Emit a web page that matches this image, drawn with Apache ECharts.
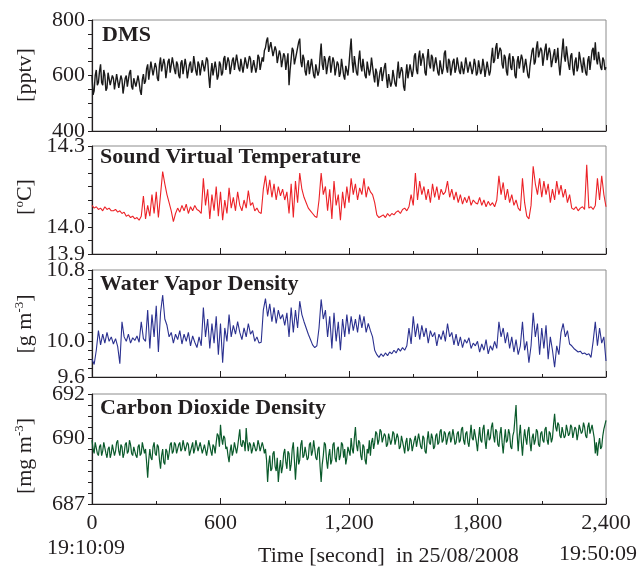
<!DOCTYPE html>
<html>
<head>
<meta charset="utf-8">
<script src="https://cdn.jsdelivr.net/npm/echarts@6/dist/echarts.min.js"></script>
<style>
html,body{margin:0;padding:0;background:#fff;}
#chart{width:639px;height:568px;}
</style>
</head>
<body>
<div id="chart"></div>
<script>
// ---- Data ----
const xTicks = [0, 600, 1200, 1800, 2400];

// DMS [pptv], one sample every 5 s
const DMS_STEP_S = 5;
const dms = [
600,530,545,600,620,565,575,615,640,575,565,620,600,545,555,610,615,565,570,600,
590,550,545,605,610,555,560,600,585,535,540,590,600,560,565,610,620,560,550,590,
595,560,560,600,575,545,530,585,605,570,580,625,640,585,590,650,655,600,600,645,
630,590,580,640,665,615,610,660,640,590,595,650,660,610,615,665,670,620,605,650,
640,600,590,645,655,605,610,660,635,590,585,640,650,610,620,670,665,615,600,650,
640,600,605,655,660,615,620,665,655,600,555,610,645,600,600,650,625,585,600,650,
640,600,610,660,670,620,620,665,650,605,600,655,665,620,625,675,680,625,615,660,
655,610,610,665,670,625,625,670,660,610,605,655,650,610,630,675,665,620,620,665,
650,690,700,725,737,685,690,720,715,670,665,705,690,645,640,690,675,630,630,680,
670,620,625,680,565,620,660,700,690,640,635,680,680,720,733,650,630,675,660,615,
600,640,655,605,605,660,665,600,590,640,645,600,615,670,715,640,620,670,655,605,
600,660,670,610,615,665,650,600,595,650,640,595,610,660,660,600,585,635,640,600,
640,690,733,650,610,670,665,610,600,655,690,635,615,660,655,600,590,650,645,600,
620,665,660,600,575,625,610,560,560,615,630,580,580,630,645,590,555,605,600,560,
575,620,625,570,560,610,650,590,585,630,615,560,545,600,640,590,590,640,640,595,
620,670,680,620,605,665,690,635,630,680,660,610,600,660,695,640,625,675,665,615,
615,665,670,610,600,655,655,605,625,680,690,630,610,660,650,600,595,650,660,610,
625,665,665,615,605,650,650,605,630,665,640,610,615,650,645,605,625,660,640,600,
610,655,650,605,620,660,635,595,600,650,645,600,615,665,700,645,655,700,717,660,
660,700,690,640,625,675,665,615,600,660,680,630,620,670,655,600,590,650,670,625,
630,675,660,610,605,660,655,600,590,635,640,690,700,640,650,700,723,665,660,700,
690,635,640,695,715,655,650,700,680,630,625,675,695,645,660,700,640,600,605,690,
733,670,650,705,700,640,620,670,680,625,600,650,665,615,630,685,690,635,610,665,
660,610,600,655,670,620,625,690,700,655,720,660,640,685,690,630,620,665,655,620,
630];

// Sound virtual temperature [°C], one sample every 10 s
const TEMP_STEP_S = 10;
const temperature = [
14.08,14.07,14.075,14.065,14.07,14.06,14.075,14.065,14.07,14.06,
14.06,14.065,14.055,14.06,14.05,14.055,14.04,14.045,14.035,14.04,
14.03,14.035,14.025,14.04,14.115,14.03,14.08,14.04,14.12,14.05,
14.13,14.035,14.12,14.205,14.16,14.12,14.09,14.06,14.02,14.05,
14.07,14.055,14.08,14.06,14.085,14.05,14.075,14.06,14.08,14.065,
14.06,14.05,14.18,14.08,14.14,14.03,14.12,14.06,14.15,14.04,
14.13,14.025,14.10,14.05,14.145,14.07,14.11,14.06,14.13,14.08,
14.06,14.10,14.07,14.135,14.08,14.09,14.06,14.07,14.055,14.05,
14.14,14.19,14.12,14.175,14.11,14.16,14.10,14.15,14.115,14.14,
14.10,14.13,14.05,14.16,14.035,14.17,14.09,14.20,14.14,14.11,
14.09,14.07,14.06,14.05,14.04,14.035,14.10,14.20,14.12,14.15,
14.06,14.14,14.03,14.17,14.08,14.12,14.025,14.13,14.07,14.15,
14.09,14.18,14.12,14.16,14.10,14.145,14.12,14.18,14.11,14.15,
14.13,14.12,14.09,14.045,14.035,14.04,14.045,14.035,14.05,14.04,
14.05,14.045,14.055,14.06,14.05,14.065,14.07,14.06,14.075,14.12,
14.08,14.20,14.10,14.17,14.12,14.15,14.10,14.14,14.09,14.16,
14.11,14.15,14.10,14.14,14.12,14.13,14.17,14.11,14.14,14.10,
14.13,14.09,14.12,14.085,14.11,14.09,14.115,14.08,14.10,14.09,
14.085,14.11,14.08,14.10,14.075,14.095,14.08,14.09,14.075,14.10,
14.19,14.12,14.165,14.10,14.14,14.09,14.12,14.08,14.10,14.07,
14.06,14.18,14.09,14.04,14.03,14.08,14.225,14.16,14.12,14.18,
14.11,14.17,14.12,14.16,14.09,14.14,14.10,14.17,14.12,14.155,
14.11,14.14,14.09,14.12,14.07,14.065,14.075,14.06,14.07,14.075,
14.065,14.23,14.07,14.075,14.065,14.08,14.18,14.10,14.19,14.12,
14.075];

// Water vapor density [g m-3], one sample every 10 s
const WATER_STEP_S = 10;
const waterVapor = [
9.80,9.74,9.90,10.12,9.96,10.08,9.98,10.10,10.00,10.05,
9.97,10.03,9.94,9.75,10.22,10.05,10.00,10.08,9.98,10.04,
10.01,10.06,9.99,10.22,10.03,10.00,10.35,9.92,10.30,10.05,
10.40,9.88,10.32,10.52,10.25,10.18,10.05,10.10,9.98,10.08,
10.02,10.12,9.97,10.08,10.00,10.10,9.95,10.06,9.99,9.93,
10.05,9.95,10.38,10.05,10.25,9.92,10.20,9.98,10.28,9.85,
10.20,9.76,10.15,10.00,10.30,10.05,10.18,10.08,10.22,10.10,
10.02,10.15,10.05,10.20,10.08,10.12,10.00,10.05,9.98,9.99,
10.35,10.48,10.28,10.42,10.22,10.38,10.20,10.35,10.25,10.30,
10.18,10.32,10.05,10.38,10.10,10.35,10.15,10.45,10.30,10.22,
10.15,10.08,10.02,9.96,9.93,9.95,10.15,10.47,10.25,10.35,
10.05,10.28,9.92,10.32,10.00,10.22,9.90,10.25,10.05,10.30,
10.08,10.28,10.12,10.25,10.10,10.30,10.15,10.28,10.10,10.20,
10.12,10.05,9.90,9.85,9.82,9.86,9.83,9.87,9.84,9.88,
9.86,9.90,9.87,9.92,9.89,9.93,9.90,9.95,10.15,9.97,
10.28,10.05,10.20,10.02,10.18,10.05,10.15,9.98,10.12,10.05,
10.10,9.95,10.08,10.02,10.12,10.00,10.20,10.05,10.10,9.96,
10.08,9.95,10.05,9.93,10.02,9.98,10.04,9.92,9.98,9.95,
10.00,9.88,9.97,9.90,10.02,9.86,9.95,9.90,10.00,9.92,
10.22,10.05,10.15,9.98,10.10,9.92,10.05,9.88,10.02,9.85,
9.95,10.22,9.90,10.00,9.76,9.95,10.32,10.05,10.20,9.85,
10.15,9.92,10.18,9.80,10.05,9.90,9.71,9.95,9.85,10.10,
10.20,10.05,10.12,9.97,9.95,9.92,9.90,9.88,9.89,9.86,
9.87,9.85,9.86,9.82,10.00,10.22,9.95,10.15,9.98,10.05,
9.78];

// Carbon dioxide density [mg m-3], one sample every 5 s
const CO2_STEP_S = 5;
const co2 = [
689.9,689.5,689.3,689.8,689.8,689.3,689.2,689.6,689.7,689.2,689.4,689.8,689.8,689.3,689.1,689.5,689.6,689.1,689.3,689.7,
689.7,689.2,689.4,689.8,689.9,689.4,689.2,689.7,689.6,689.1,689.3,689.7,689.8,689.3,689.4,689.9,689.7,689.3,689.2,689.6,
689.6,689.2,689.1,689.6,689.7,689.2,689.3,689.8,689.8,689.3,689.5,688.9,688.2,689.0,689.5,689.1,689.0,689.6,689.8,689.3,
689.2,689.7,689.6,689.0,688.6,689.2,689.5,688.9,688.8,689.5,689.4,689.0,689.3,689.7,689.8,689.3,689.4,689.8,689.7,689.3,
689.3,689.7,689.8,689.4,689.5,689.9,689.9,689.4,689.4,689.8,689.7,689.2,689.2,689.6,689.8,689.3,689.5,689.9,689.9,689.4,
689.4,689.8,689.8,689.3,689.3,689.7,689.7,689.2,689.5,689.9,689.9,689.4,689.2,689.7,689.6,689.3,689.8,690.2,690.1,689.6,
690.6,690.0,689.7,690.1,690.0,689.5,689.6,689.2,688.9,689.4,689.7,689.2,689.4,689.8,689.8,689.3,689.6,690.0,690.4,689.7,
689.6,689.9,689.8,689.4,690.45,689.8,689.4,689.8,689.7,689.3,689.5,689.8,689.8,689.4,689.5,689.9,689.7,689.4,689.6,689.8,
689.6,689.3,689.5,689.0,688.0,688.8,689.2,688.5,688.6,689.3,689.4,688.7,688.5,689.1,688.0,688.6,689.0,688.4,688.7,689.3,
689.5,688.9,688.6,689.4,689.3,688.5,688.8,689.5,689.8,689.0,688.1,688.9,689.6,688.8,689.0,689.7,689.9,689.1,689.2,689.6,
689.6,689.0,689.1,689.7,689.8,689.2,689.4,689.9,689.9,689.1,689.0,689.5,689.6,688.7,688.0,688.8,689.2,689.8,689.7,689.0,
688.6,689.2,689.5,688.8,689.0,689.7,689.8,689.1,688.9,689.5,689.6,689.0,689.2,689.8,689.7,689.1,689.5,688.8,689.1,689.6,
689.6,689.2,690.0,689.5,689.3,690.0,690.5,689.7,689.4,689.9,689.8,689.2,689.0,689.7,689.6,689.0,688.8,689.5,689.3,689.9,
689.2,689.8,690.0,689.5,689.8,690.3,690.2,689.7,689.9,690.4,690.3,689.8,689.8,690.2,690.1,689.6,689.7,690.2,690.2,689.7,
689.9,690.3,690.2,689.7,689.7,690.2,690.0,689.5,689.6,690.1,690.1,689.6,689.3,689.8,690.0,689.4,689.5,690.0,689.9,689.4,
689.4,689.9,690.1,689.6,689.6,690.2,690.2,689.6,689.5,690.1,690.0,689.4,689.3,689.9,690.3,689.8,689.7,690.2,690.0,689.5,
689.6,690.1,690.2,689.7,689.8,690.3,690.4,689.8,689.9,690.3,690.2,689.7,689.7,690.2,690.3,689.8,690.0,690.4,690.1,689.7,
689.8,690.2,690.3,689.8,689.9,690.4,690.5,689.9,689.7,690.2,690.3,689.8,689.6,690.1,690.6,690.0,689.9,690.4,690.4,689.8,
689.4,690.0,690.5,689.9,689.8,690.4,690.6,689.9,689.5,690.1,690.4,689.9,690.0,690.5,690.7,690.1,689.8,690.4,690.3,689.7,
689.6,690.2,690.5,689.8,689.3,689.9,690.4,689.8,689.9,690.4,690.2,689.6,689.5,690.1,690.3,690.9,691.5,690.2,689.4,690.1,
690.6,689.8,689.2,689.9,690.4,690.0,689.7,690.3,690.5,689.8,689.4,690.0,690.2,689.7,689.9,690.4,690.3,689.7,689.6,690.2,
690.3,689.9,689.8,690.4,690.5,689.9,689.7,690.3,690.2,689.8,690.0,690.6,691.1,690.5,690.3,690.7,690.6,690.1,690.0,690.5,
690.5,690.0,690.1,690.6,690.6,690.1,690.2,690.6,690.5,690.0,690.0,690.5,690.4,689.9,690.2,690.6,690.6,690.2,690.3,690.7,
690.5,690.1,690.0,690.5,690.7,690.2,690.2,690.6,690.6,690.0,689.3,689.8,689.2,689.7,690.0,689.5,689.6,690.1,690.4,690.6,
690.8];

const panelTitles = ['DMS', 'Sound Virtual Temperature', 'Water Vapor Density', 'Carbon Dioxide Density'];
const dmsLabels = [800, 600, 400];
const tempLabels = [14.3, 14.0, 13.9];
const waterLabels = [10.8, 10.0, 9.6];
const co2Labels = [692, 690, 687];
const startClock = '19:10:09';
const endClock = '19:50:09';
const xTitle = 'Time [second]  in 25/08/2008';

// ---- Chart ----
const FONT = '"Liberation Serif", "Times New Roman", serif';
const INK = '#231f20';
const FS = 22;
const panels = [
  {data: dms, step: DMS_STEP_S, min: 400, max: 800, interval: 50, labels: dmsLabels, dec: 0, color: '#1a1a1a', width: 1.4,
   top: 20, height: 111, name: '[pptv]', nameY: 75},
  {data: temperature, step: TEMP_STEP_S, min: 13.9, max: 14.3, interval: 0.05, labels: tempLabels, dec: 1, color: '#ec2227', width: 1.1,
   top: 146, height: 108, name: '[{sup|o}C]', nameY: 197},
  {data: waterVapor, step: WATER_STEP_S, min: 9.6, max: 10.8, interval: 0.1, labels: waterLabels, dec: 1, color: '#2b3190', width: 1.1,
   top: 270, height: 107, name: '[g m{sup|-3}]', nameY: 324},
  {data: co2, step: CO2_STEP_S, min: 687, max: 692, interval: 0.5, labels: co2Labels, dec: 0, color: '#0a5a2b', width: 1.2,
   top: 394, height: 110, name: '[mg m{sup|-3}]', nameY: 456}
];

const chart = echarts.init(document.getElementById('chart'), null, {renderer: 'canvas'});

const grid = [], xAxis = [], yAxis = [], series = [], graphic = [];
const titleY = [37, 159, 286, 410];
const titleX = [102, 100, 100, 100];

panels.forEach((p, i) => {
  grid.push({left: 92, right: 33, top: p.top, height: p.height, show: true,
    borderColor: '#8c8c8c', borderWidth: 1, backgroundColor: 'transparent'});
  xAxis.push({
    type: 'value', gridIndex: i, min: 0, max: 2400, interval: 600,
    axisLine: {show: true, onZero: false, lineStyle: {color: INK, width: 1.2}},
    axisTick: {show: true, inside: true, length: 6, lineStyle: {color: INK}},
    minorTick: {show: true, splitNumber: 2, length: 3, lineStyle: {color: INK}},
    splitLine: {show: false},
    axisLabel: {show: i === 3, margin: 8, color: INK, fontFamily: FONT, fontSize: FS,
      formatter: v => xTicks.indexOf(v) >= 0 ? v.toLocaleString('en-US') : ''}
  });
  yAxis.push({
    type: 'value', gridIndex: i, min: p.min, max: p.max, interval: p.interval,
    axisLine: {show: true, onZero: false, lineStyle: {color: INK, width: 1.2}},
    axisTick: {show: true, inside: false, length: 4, lineStyle: {color: INK}},
    splitLine: {show: false},
    axisLabel: {show: true, margin: 7, color: INK, fontFamily: FONT, fontSize: FS,
      showMinLabel: true, showMaxLabel: true,
      formatter: v => p.labels.some(l => Math.abs(l - v) < 1e-6) ? v.toFixed(p.dec) : ''}
  });
  series.push({
    type: 'line', xAxisIndex: i, yAxisIndex: i, showSymbol: false, symbol: 'none',
    lineStyle: {color: p.color, width: p.width}, animation: false,
    data: p.data.map((v, k) => [k * p.step, v])
  });
  graphic.push({
    type: 'text', left: titleX[i], top: titleY[i] - 13, z: 10,
    style: {text: panelTitles[i], fontFamily: FONT, fontWeight: 'bold', fontSize: FS, fill: INK}
  });
  graphic.push({
    type: 'text', x: 25, y: p.nameY, rotation: Math.PI / 2, z: 10,
    style: {text: p.name, fontFamily: FONT, fontSize: FS, fill: INK, align: 'center', verticalAlign: 'middle',
      rich: {sup: {fontFamily: FONT, fontSize: 13, fill: INK, verticalAlign: 'top', padding: [0, 0, 10, 0]}}}
  });
});

graphic.push({type: 'text', x: 86, y: 548, z: 10,
  style: {text: startClock, fontFamily: FONT, fontSize: FS, fill: INK, align: 'center', verticalAlign: 'middle'}});
graphic.push({type: 'text', x: 258, y: 556, z: 10,
  style: {text: xTitle, fontFamily: FONT, fontSize: FS, fill: INK, align: 'left', verticalAlign: 'middle'}});
graphic.push({type: 'text', x: 598, y: 554, z: 10,
  style: {text: endClock, fontFamily: FONT, fontSize: FS, fill: INK, align: 'center', verticalAlign: 'middle'}});

chart.setOption({
  animation: false,
  backgroundColor: '#fff',
  grid, xAxis, yAxis, series, graphic
});
</script>
</body>
</html>
